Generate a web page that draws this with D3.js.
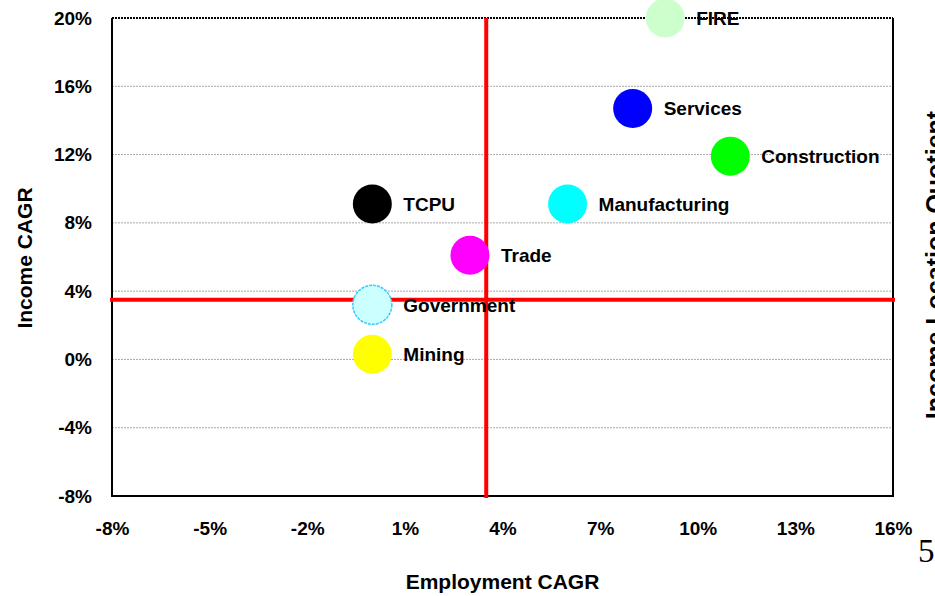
<!DOCTYPE html>
<html>
<head>
<meta charset="utf-8">
<script src="https://cdn.jsdelivr.net/npm/d3@7"></script>
<style>
  body { margin: 0; background: #fff; }
  svg text { font-family: "Liberation Sans Narrow", "Arial Narrow", "Liberation Sans", sans-serif; font-weight: bold; fill: #000; }
</style>
</head>
<body>
<svg id="chart" width="935" height="596"></svg>
<script>
// sectors, employment CAGR (%), income CAGR (%)
var sectors = ["FIRE", "Services", "Construction", "TCPU", "Manufacturing", "Trade", "Government", "Mining"],
  empCagr = [9.0, 8.0, 11.0, 0.0, 6.0, 3.0, 0.0, 0.0],
  incCagr = [20.0, 14.7, 11.9, 9.1, 9.1, 6.1, 3.2, 0.3],
  fills = ["#ccffcc", "#0000ff", "#00ff00", "#000000", "#00ffff", "#ff00ff", "#ccffff", "#ffff00"],
  xTicks = [-8, -5, -2, 1, 4, 7, 10, 13, 16],
  yTicks = [-8, -4, 0, 4, 8, 12, 16, 20],
  avgEmp = 3.5,
  avgInc = 3.5;

var svg = d3.select("#chart"),
  m = {left: 112, top: 18, right: 893, bottom: 496};

var x = d3.scaleLinear().domain([-8, 16]).range([m.left, m.right]),
  y = d3.scaleLinear().domain([-8, 20]).range([m.bottom, m.top]);

var pct = function(d){ return d + "%"; };

// gridlines
svg.append("g")
  .selectAll("line")
  .data(yTicks.filter(function(d){ return d > -8 && d < 20; }))
  .enter().append("line")
  .attr("x1", m.left).attr("x2", m.right)
  .attr("y1", y).attr("y2", y)
  .attr("stroke", "#aaa")
  .attr("stroke-width", 1)
  .attr("stroke-dasharray", "2,1");

// frame
svg.append("line")
  .attr("x1", m.left).attr("x2", m.right).attr("y1", m.top).attr("y2", m.top)
  .attr("stroke", "#000").attr("stroke-width", 2).attr("stroke-dasharray", "2,1");
svg.append("path")
  .attr("d", "M" + m.right + "," + m.top + "V" + m.bottom + "H" + m.left + "V" + m.top)
  .attr("fill", "none").attr("stroke", "#000").attr("stroke-width", 2);

// y axis
var yAxis = d3.axisLeft(y).tickValues(yTicks).tickFormat(pct).tickSize(0).tickPadding(20);
svg.append("g")
  .attr("transform", "translate(" + m.left + ",0)")
  .call(yAxis)
  .call(function(g){ g.select(".domain").remove(); })
  .selectAll("text")
  .attr("font-size", 19)
  .attr("font-family", null);

// x axis
var xAxis = d3.axisBottom(x).tickValues(xTicks).tickFormat(pct).tickSize(0).tickPadding(26);
svg.append("g")
  .attr("transform", "translate(0," + m.bottom + ")")
  .call(xAxis)
  .call(function(g){ g.select(".domain").remove(); })
  .selectAll("text")
  .attr("font-size", 19)
  .attr("font-family", null);

// average lines
svg.append("line")
  .attr("x1", x(avgEmp)).attr("x2", x(avgEmp))
  .attr("y1", m.top).attr("y2", m.bottom + 2)
  .attr("stroke", "#ff0000").attr("stroke-width", 4);
svg.append("line")
  .attr("x1", m.left - 2).attr("x2", m.right + 2)
  .attr("y1", y(avgInc)).attr("y2", y(avgInc))
  .attr("stroke", "#ff0000").attr("stroke-width", 4);

// points
var pts = sectors.map(function(s, i){
  return {name: s, ex: empCagr[i], iy: incCagr[i], fill: fills[i]};
});

var pt = svg.append("g")
  .selectAll("g")
  .data(pts)
  .enter().append("g")
  .attr("transform", function(d){ return "translate(" + x(d.ex) + "," + y(d.iy) + ")"; });

pt.append("circle")
  .attr("r", 19.5)
  .attr("fill", function(d){ return d.fill; })
  .attr("stroke", function(d){ return d.name === "Government" ? "#33ccff" : "none"; })
  .attr("stroke-width", 1.5)
  .attr("stroke-dasharray", "3,1");

pt.append("text")
  .attr("x", 31)
  .attr("dy", "0.36em")
  .attr("font-size", 19)
  .text(function(d){ return d.name; });

// axis titles
svg.append("text")
  .attr("x", x(4)).attr("y", 589)
  .attr("text-anchor", "middle")
  .attr("font-size", 21)
  .text("Employment CAGR");

svg.append("text")
  .attr("transform", "translate(32," + 258 + ") rotate(-90)")
  .attr("text-anchor", "middle")
  .attr("font-size", 21)
  .text("Income CAGR");

// secondary title, clipped by the page edge as in the original
svg.append("text")
  .attr("transform", "translate(944," + 265 + ") rotate(-90)")
  .attr("text-anchor", "middle")
  .attr("font-size", 25)
  .text("Income Location Quotient");

// page number
svg.append("text")
  .attr("x", 918).attr("y", 562)
  .attr("font-size", 33)
  .style("font-family", "'Liberation Serif', 'Times New Roman', serif")
  .style("font-weight", "normal")
  .text("5");
</script>
</body>
</html>
